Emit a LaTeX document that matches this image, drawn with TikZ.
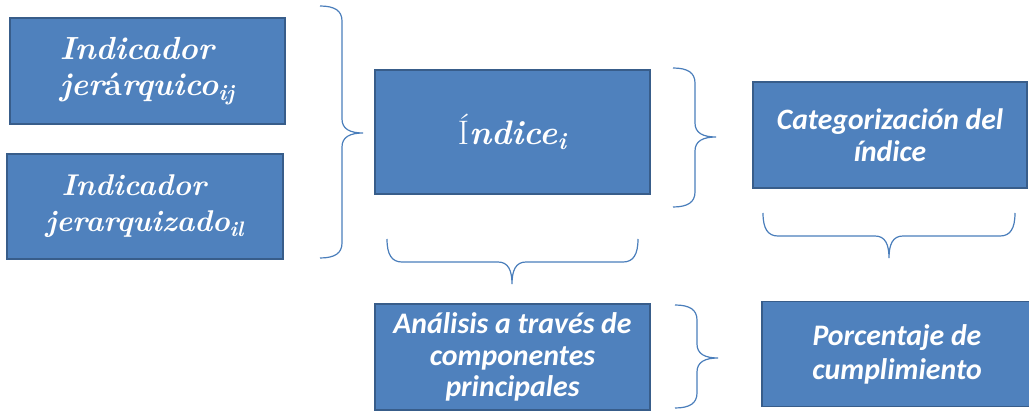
\documentclass[tikz,border=0pt]{standalone}
\usepackage{amsmath}
\usepackage{fontspec}
\newfontfamily\calib{Carlito}
\definecolor{boxfill}{HTML}{4F81BD}
\definecolor{boxline}{HTML}{385D8A}
\definecolor{brccol}{HTML}{4A7EBB}
\tikzset{blk/.style = {draw=boxline, fill=boxfill, line width=0.9pt, text=white, inner sep=0pt, minimum width=137.5pt, minimum height=53pt}}
\tikzset{brc/.style = {draw=brccol, line width=0.6pt}}
% right brace: #1 x of the ends, #2 top, #3 bottom, #4 y of the tip
\newcommand{\rightbrc}[4]{%
\draw[brc] (#1,#2) .. controls ({#1+15},#2) and ({#1+22},{#2+5}) .. ({#1+22},{#2+15})
 -- ({#1+22},{#4-14}) .. controls ({#1+22},{#4-4}) and ({#1+30},#4) .. ({#1+43},#4)
 .. controls ({#1+30},#4) and ({#1+22},{#4+4}) .. ({#1+22},{#4+14})
 -- ({#1+22},{#3-15}) .. controls ({#1+22},{#3-5}) and ({#1+15},#3) .. (#1,#3);}
% down brace: #1 y of the ends, #2 left, #3 right, #4 x of the tip
\newcommand{\downbrc}[4]{%
\draw[brc] (#2,#1) .. controls (#2,{#1+16}) and ({#2+5},{#1+23}) .. ({#2+15},{#1+23})
 -- ({#4-14},{#1+23}) .. controls ({#4-4},{#1+23}) and (#4,{#1+31}) .. (#4,{#1+45})
 .. controls (#4,{#1+31}) and ({#4+4},{#1+23}) .. ({#4+14},{#1+23})
 -- ({#3-15},{#1+23}) .. controls ({#3-5},{#1+23}) and (#3,{#1+16}) .. (#3,#1);}
\newcommand{\sbx}[1]{$_{\text{\bfseries\itshape #1}}$}
\begin{document}
\begin{tikzpicture}[x=0.5pt, y=-0.5pt]
\useasboundingbox (0,0) rectangle (1029,411);
\node[blk, align=left, font=\fontsize{16}{18}\selectfont\bfseries\itshape] (jer) at (147.5,71)
 {Indicador\\ jer{\upshape á}rquico\sbx{ij}};
\node[blk, minimum width=138pt, minimum height=52.5pt, align=left, font=\fontsize{15}{18}\selectfont\bfseries\itshape] (jerz) at (145,206.5)
 {\hspace*{8pt}Indicador\\ jerarquizado\sbx{il}};
\node[blk, minimum height=62pt, font=\fontsize{17}{18}\selectfont\bfseries\itshape] (ind) at (512.5,132)
 {{\mdseries\upshape Í}ndice\sbx{i}};
\node[blk, minimum width=137pt, align=center, font=\fontsize{14.8}{16}\selectfont\calib\bfseries\itshape] (cat) at (890,135)
 {Categorización del\\ índice};
\node[blk, align=center, font=\fontsize{14.9}{15.8}\selectfont\calib\bfseries\itshape] (acp) at (512.5,357)
 {Análisis a través de\\ componentes\\ principales};
\node[blk, minimum width=135pt, minimum height=52.5pt, align=center, font=\fontsize{14.9}{17}\selectfont\calib\bfseries\itshape] (pct) at (897,354)
 {Porcentaje de\\ cumplimiento};
\rightbrc{320}{6}{258}{133}
\rightbrc{673}{68}{207}{137}
\rightbrc{675}{305}{408}{358}
\downbrc{239}{387}{638}{512}
\downbrc{213}{763}{1015}{889}
\end{tikzpicture}
\end{document}
